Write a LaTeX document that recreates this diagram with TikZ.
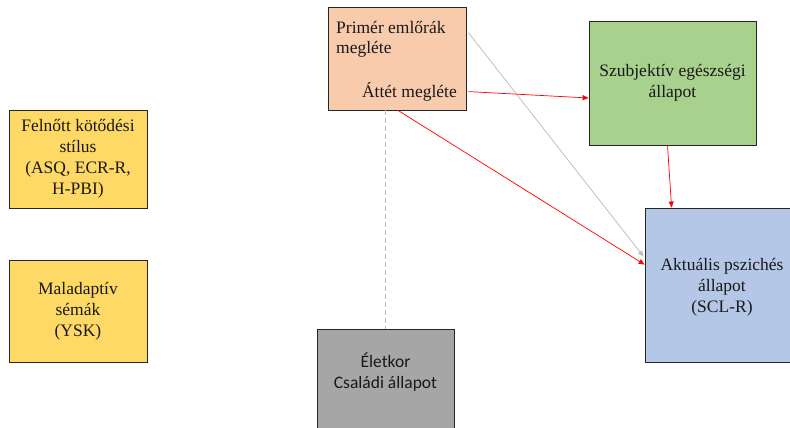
\documentclass[tikz,border=0pt]{standalone}
\usepackage{fontspec}
\setmainfont{Liberation Serif}
\newfontfamily\calibrifont{Carlito}
\usetikzlibrary{arrows.meta,calc}
\definecolor{peach}{HTML}{F8CBAD}
\definecolor{lgreen}{HTML}{A9D18E}
\definecolor{lblue}{HTML}{B4C7E7}
\definecolor{lyellow}{HTML}{FFD966}
\definecolor{mgray}{HTML}{A6A6A6}
\definecolor{lgrayline}{HTML}{BFBFBF}
\definecolor{pred}{HTML}{FF0000}
\tikzset{
  box/.style={draw=black!85, line width=0.8pt, inner sep=0pt, align=center,
    font=\fontsize{17.5}{21}\selectfont, text=black!90},
  txt/.style={inner sep=0pt, font=\fontsize{17.5}{21}\selectfont, text=black!90},
  redarrow/.style={draw=pred, line width=0.7pt, -{Triangle[length=6pt,width=5pt]}},
  grayarrow/.style={draw=lgrayline, line width=0.8pt, -{Triangle[length=6pt,width=5pt]}},
  graydash/.style={draw=lgrayline, line width=0.9pt, dash pattern=on 5pt off 3pt},
}
\begin{document}
\begin{tikzpicture}[x=1pt,y=-1pt]
\useasboundingbox (0,0) rectangle (790,428);
% boxes
\node[box, fill=peach, minimum width=138pt, minimum height=103pt] (primer) at (397,58.5) {};
\node[txt, anchor=west] (primertxt) at (336,39.5) {\begin{tabular}{@{}l@{}}Primér emlőrák\\[-1pt]megléte\end{tabular}};
\node[txt, anchor=east] (attet) at (457,92) {Áttét megléte};
\node[box, fill=lgreen, minimum width=167pt, minimum height=124pt] (green) at (672.5,83) {Szubjektív egészségi\\állapot};
\node[box, fill=lblue, minimum width=155pt, minimum height=154pt] (blue) at (722.5,285) {};
\node[txt, align=center] (bluetxt) at (722,287) {Aktuális pszichés\\állapot\\(SCL-R)};
\node[box, fill=lyellow, minimum width=138pt, minimum height=98pt] (felnott) at (78,159) {Felnőtt kötődési\\stílus\\ (ASQ, ECR-R,\\H-PBI)};
\node[box, fill=lyellow, minimum width=138pt, minimum height=102pt] (malad) at (78,311) {Maladaptív\\sémák\\(YSK)};
\node[box, fill=mgray, minimum width=137pt, minimum height=104pt] (eletkor) at (385.5,381) {};
\node[txt, align=center, font=\calibrifont\fontsize{17.5}{21}\selectfont] (eletkortxt) at (385.5,372.5) {Életkor\\Családi állapot};
% connectors
\draw[graydash] (eletkor.north |- primer.south) -- (eletkor.north);
\draw[grayarrow] ([xshift=2pt,yshift=-26pt]primer.north east) -- ([xshift=-1pt,yshift=-49pt]blue.north west);
\draw[redarrow] ([xshift=2pt,yshift=-85pt]primer.north east) -- ([yshift=-15pt]green.west);
\draw[redarrow] ([xshift=1pt]primer.south) -- ([yshift=-57pt]blue.north west);
\draw[redarrow] ([xshift=-5pt]green.south) -- ([xshift=27pt]blue.north west);
\end{tikzpicture}
\end{document}
